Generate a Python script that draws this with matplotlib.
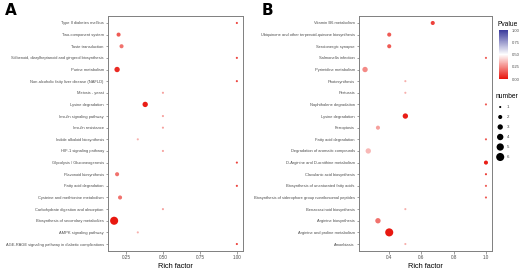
import numpy as np
import matplotlib
matplotlib.use("Agg")
import matplotlib.pyplot as plt
from matplotlib.colors import LinearSegmentedColormap, Normalize
from matplotlib.colorbar import ColorbarBase

plt.rcParams['font.family'] = ['Liberation Sans', 'DejaVu Sans']

# panel A, listed top to bottom
terms_a = [
    "Type II diabetes mellitus", "Two-component system", "Taste transduction",
    "Stilbenoid, diarylheptanoid and gingerol biosynthesis", "Purine metabolism",
    "Non-alcoholic fatty liver disease (NAFLD)", "Meiosis - yeast", "Lysine degradation",
    "Insulin signaling pathway", "Insulin resistance", "Indole alkaloid biosynthesis",
    "HIF-1 signaling pathway", "Glycolysis / Gluconeogenesis", "Flavonoid biosynthesis",
    "Fatty acid degradation", "Cysteine and methionine metabolism",
    "Carbohydrate digestion and absorption", "Biosynthesis of secondary metabolites",
    "AMPK signaling pathway", "AGE-RAGE signaling pathway in diabetic complications",
]
rich_a = [1.0, 0.20, 0.22, 1.0, 0.19, 1.0, 0.5, 0.38, 0.5, 0.5,
          0.33, 0.5, 1.0, 0.19, 1.0, 0.21, 0.5, 0.17, 0.33, 1.0]
num_a = [1, 2, 2, 1, 3, 1, 1, 3, 1, 1, 1, 1, 1, 2, 1, 2, 1, 6, 1, 1]
pval_a = [0.1, 0.15, 0.2, 0.1, 0.05, 0.1, 0.3, 0.02, 0.3, 0.3,
          0.33, 0.3, 0.1, 0.2, 0.1, 0.2, 0.3, 0.01, 0.33, 0.1]

# panel B, listed top to bottom
terms_b = [
    "Vitamin B6 metabolism", "Ubiquinone and other terpenoid-quinone biosynthesis",
    "Serotonergic synapse", "Salmonella infection", "Pyrimidine metabolism",
    "Photosynthesis", "Pertussis", "Naphthalene degradation", "Lysine degradation",
    "Ferroptosis", "Fatty acid degradation", "Degradation of aromatic compounds",
    "D-Arginine and D-ornithine metabolism", "Clavulanic acid biosynthesis",
    "Biosynthesis of unsaturated fatty acids",
    "Biosynthesis of siderophore group nonribosomal peptides",
    "Benzoxazinoid biosynthesis", "Arginine biosynthesis",
    "Arginine and proline metabolism", "Amoebiasis",
]
rich_b = [0.67, 0.4, 0.4, 1.0, 0.25, 0.5, 0.5, 1.0, 0.5, 0.33,
          1.0, 0.27, 1.0, 1.0, 1.0, 1.0, 0.5, 0.33, 0.4, 0.5]
num_b = [2, 2, 2, 1, 3, 1, 1, 1, 3, 2, 1, 3, 2, 1, 1, 1, 1, 3, 6, 1]
pval_b = [0.1, 0.15, 0.15, 0.15, 0.25, 0.33, 0.33, 0.15, 0.02, 0.3,
          0.15, 0.35, 0.02, 0.08, 0.15, 0.15, 0.33, 0.2, 0.01, 0.33]

xticks_a = [0.25, 0.50, 0.75, 1.00]
xticks_b = [0.4, 0.6, 0.8, 1.0]
legend_nums = [1, 2, 3, 4, 5, 6]
cbar_ticks = [0.0, 0.25, 0.5, 0.75, 1.0]

cmap = LinearSegmentedColormap.from_list("pv", ["#e8140c", "#ffffff", "#3a3a9c"])
norm = Normalize(0, 1)
GREY = "#4d4d4d"


def msize(n):
    return 0.9 * (7 * np.asarray(n, dtype=float) - 6) + 1.4


def panel(rect, terms, rich, num, pval, xticks, xfmt, letter, lx):
    ax = fig.add_axes(rect)
    y = np.arange(len(terms))[::-1]
    ax.scatter(rich, y, s=msize(num), c=pval, cmap=cmap, norm=norm,
               edgecolors='none', zorder=3)
    ax.set_yticks(y)
    ax.set_yticklabels(terms, fontsize=2.85, color=GREY)
    ax.set_ylim(-0.6, len(terms) - 0.4)
    lo, hi = min(rich), max(rich)
    pad = 0.05 * (hi - lo)
    ax.set_xlim(lo - pad, hi + pad)
    ax.set_xticks(xticks)
    ax.set_xticklabels([xfmt.format(v) for v in xticks], fontsize=3.3, color=GREY)
    ax.set_xlabel("Rich factor", fontsize=5.3, color='black', labelpad=2)
    ax.tick_params(length=1.8, width=0.4, color='#555555', pad=1.2)
    for sp in ax.spines.values():
        sp.set_color('#7f7f7f')
        sp.set_linewidth(0.7)
    fig.text(lx, 0.99, letter, fontsize=11, fontweight='bold',
             family='DejaVu Sans', va='top')
    return ax


fig = plt.figure(figsize=(5.2, 2.73), dpi=100)

panel([108 / 520, 22 / 273, 135 / 520, 235 / 273], terms_a, rich_a, num_a,
      pval_a, xticks_a, "{:.2f}", "A", 5 / 520)
panel([359 / 520, 22 / 273, 133 / 520, 235 / 273], terms_b, rich_b, num_b,
      pval_b, xticks_b, "{:.1f}", "B", 262 / 520)

# Pvalue colour bar
cax = fig.add_axes([499 / 520, 1 - 79 / 273, 9 / 520, 49 / 273])
cb = ColorbarBase(cax, cmap=cmap, norm=norm, ticks=cbar_ticks)
cb.outline.set_visible(False)
cb.ax.tick_params(labelsize=3.0, length=1.5, width=0.3, color='white', pad=1,
                  labelcolor=GREY)
cb.ax.set_yticklabels(["{:.2f}".format(t) for t in cbar_ticks])
fig.text(497 / 520, 1 - 24 / 273, "Pvalue", fontsize=4.8, va='center')

# number size legend
lax = fig.add_axes([496 / 520, 1 - 162 / 273, 20 / 520, 60 / 273])
ly = np.arange(len(legend_nums))[::-1]
lax.scatter([0] * len(legend_nums), ly, s=msize(legend_nums), c='black',
            edgecolors='none')
for n, yy in zip(legend_nums, ly):
    lax.text(1.2, yy, str(n), fontsize=3.2, va='center', color=GREY)
lax.set_xlim(-0.8, 3)
lax.set_ylim(-0.5, len(legend_nums) - 0.5)
lax.axis('off')
fig.text(496 / 520, 1 - 96 / 273, "number", fontsize=4.8, va='center')

fig.savefig("out.png", dpi=100)
